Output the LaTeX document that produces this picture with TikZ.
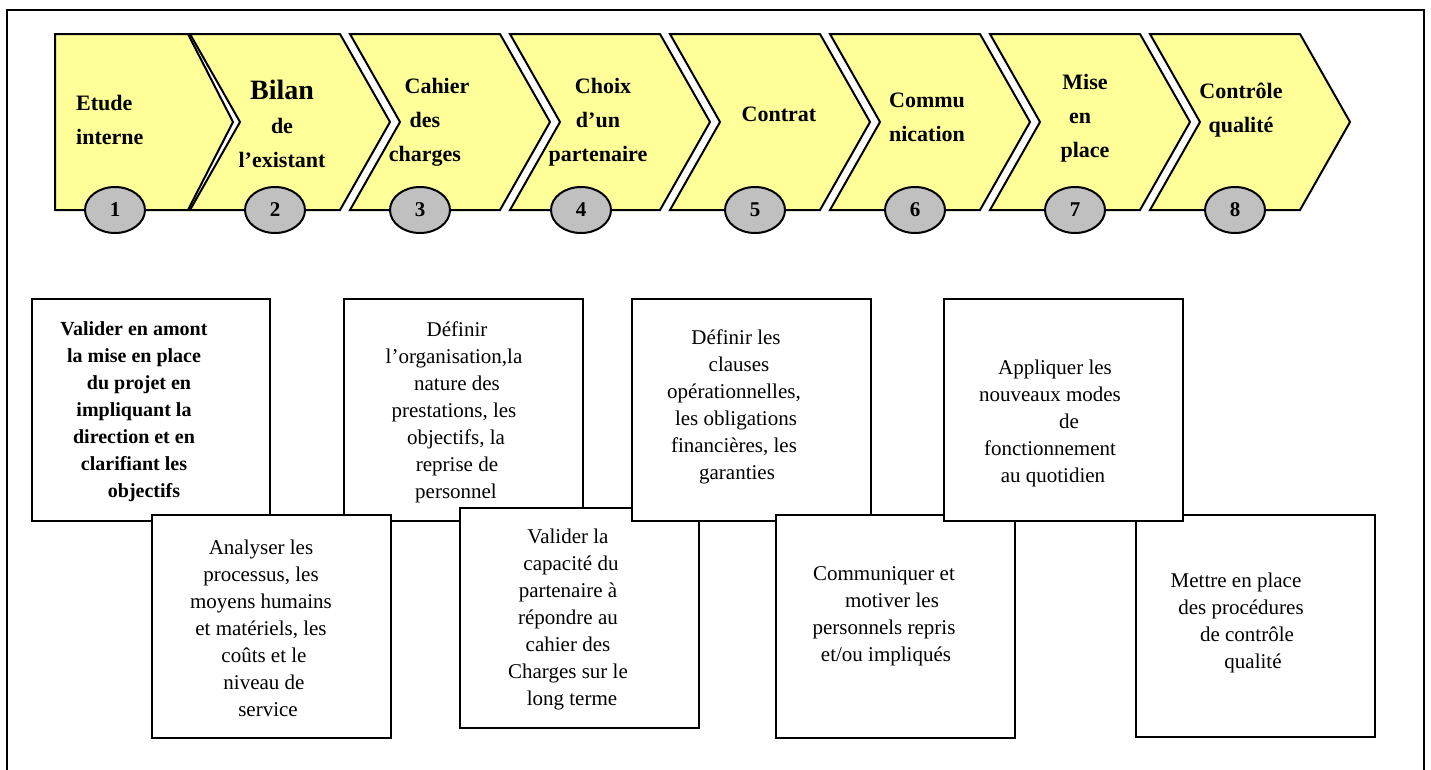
\documentclass[tikz,border=0pt]{standalone}
\usepackage{fontspec}
\setmainfont{Liberation Serif}
\usetikzlibrary{shapes.geometric}
\definecolor{chevyellow}{HTML}{FFFF99}
\definecolor{numgray}{HTML}{C0C0C0}
\begin{document}
\begin{tikzpicture}[x=1pt,y=-1pt,
  chev/.style={draw, line width=2pt, fill=chevyellow, line join=miter},
  numell/.style={ellipse, draw, line width=2pt, fill=numgray, minimum width=60pt, minimum height=46pt, inner sep=0pt, font=\fontsize{21}{24}\selectfont\bfseries},
  chevlabel/.style={align=center, inner sep=0pt, font=\fontsize{22}{34}\selectfont\bfseries},
  box/.style={draw, line width=2pt, fill=white, anchor=north west, inner sep=0pt},
  boxtext/.style={align=center, inner sep=0pt, font=\fontsize{21}{27}\selectfont},
  frameline/.style={line width=2pt}
]
\useasboundingbox (0,0) rectangle (1431,769);
% outer frame (open at the bottom)
\coordinate (fbl) at (7,775);
\coordinate (ftl) at (7,10);
\coordinate (ftr) at (1424,10);
\coordinate (fbr) at (1424,775);
\draw[frameline] (fbl) -- (ftl) -- (ftr) -- (fbr);

% chevrons
\draw[chev] (55,34) -- (188,34) -- (233,122) -- (188,210) -- (55,210) -- cycle;
\foreach \k in {0,...,6}{
  \pgfmathsetmacro{\L}{190+160*\k}
  \pgfmathsetmacro{\R}{\L+150}
  \draw[chev] (\L,34) -- (\R,34) -- (\R+50,122) -- (\R,210) -- (\L,210) -- (\L+50,122) -- cycle;
}

% chevron labels
\node[chevlabel, align=left, anchor=west] (c1) at (76,120) {Etude\\interne};
\node[chevlabel] (c2) at (282,124) {{\fontsize{28}{34}\selectfont Bilan}\\de\\l’existant};
\node[chevlabel] (c3) at (425,122) {\hspace*{24pt}Cahier\\des\\charges};
\node[chevlabel] (c4) at (598,122) {\hspace*{10pt}Choix\\d’un\\partenaire};
\node[chevlabel] (c5) at (779,114) {Contrat};
\node[chevlabel] (c6) at (927,117) {Commu\\nication};
\node[chevlabel] (c7) at (1085,118) {Mise\\\hspace*{-10pt}en\\place};
\node[chevlabel] (c8) at (1241,110) {Contrôle\\qualité};

% numbered ellipses
\node[numell] (n1) at (115,210) {1};
\node[numell] (n2) at (275,210) {2};
\node[numell] (n3) at (420,210) {3};
\node[numell] (n4) at (581,210) {4};
\node[numell] (n5) at (755,210) {5};
\node[numell] (n6) at (915,210) {6};
\node[numell] (n7) at (1075,210) {7};
\node[numell] (n8) at (1235,210) {8};

% description boxes (drawing order gives the overlaps)
\node[box, minimum width=238pt, minimum height=222pt] (bA) at (31,298) {};
\node[box, minimum width=239pt, minimum height=222pt] (bC) at (343,298) {};
\node[box, minimum width=239pt, minimum height=223pt] (bB) at (151,514) {};
\node[box, minimum width=239pt, minimum height=220pt] (bD) at (459,507) {};
\node[box, minimum width=239pt, minimum height=222pt] (bE) at (631,298) {};
\node[box, minimum width=239pt, minimum height=223pt] (bF) at (775,514) {};
\node[box, minimum width=239pt, minimum height=222pt] (bH) at (1135,514) {};
\node[box, minimum width=239pt, minimum height=222pt] (bG) at (943,298) {};

\node[boxtext, font=\fontsize{20}{27}\selectfont\bfseries] (tA) at (134,412)
  {Valider en amont\\la mise en place\\\hspace*{10pt}du projet en\\impliquant la\\direction et en\\clarifiant les\\\hspace*{20pt}objectifs};
\node[boxtext] (tB) at (261,628)
  {Analyser les\\processus, les\\moyens humains\\et matériels, les\\\hspace*{6pt}coûts et le\\\hspace*{6pt}niveau de\\\hspace*{14pt}service};
\node[boxtext] (tC) at (454,412)
  {\hspace*{6pt}Définir\\l’organisation,la\\\hspace*{6pt}nature des\\prestations, les\\\hspace*{4pt}objectifs, la\\\hspace*{6pt}reprise de\\\hspace*{4pt}personnel};
\node[boxtext] (tD) at (568,619)
  {Valider la\\\hspace*{6pt}capacité du\\partenaire à\\répondre au\\cahier des\\Charges sur le\\\hspace*{8pt}long terme};
\node[boxtext] (tE) at (734,407)
  {\hspace*{4pt}Définir les\\\hspace*{10pt}clauses\\opérationnelles,\\\hspace*{4pt}les obligations\\financières, les\\\hspace*{6pt}garanties};
\node[boxtext] (tF) at (884,616)
  {Communiquer et\\\hspace*{16pt}motiver les\\personnels repris\\\hspace*{4pt}et/ou impliqués};
\node[boxtext] (tG) at (1050,423)
  {\hspace*{10pt}Appliquer les\\nouveaux modes\\\hspace*{38pt}de\\fonctionnement\\\hspace*{6pt}au quotidien};
\node[boxtext] (tH) at (1236,623)
  {Mettre en place\\\hspace*{10pt}des procédures\\\hspace*{22pt}de contrôle\\\hspace*{34pt}qualité};
\end{tikzpicture}
\end{document}
